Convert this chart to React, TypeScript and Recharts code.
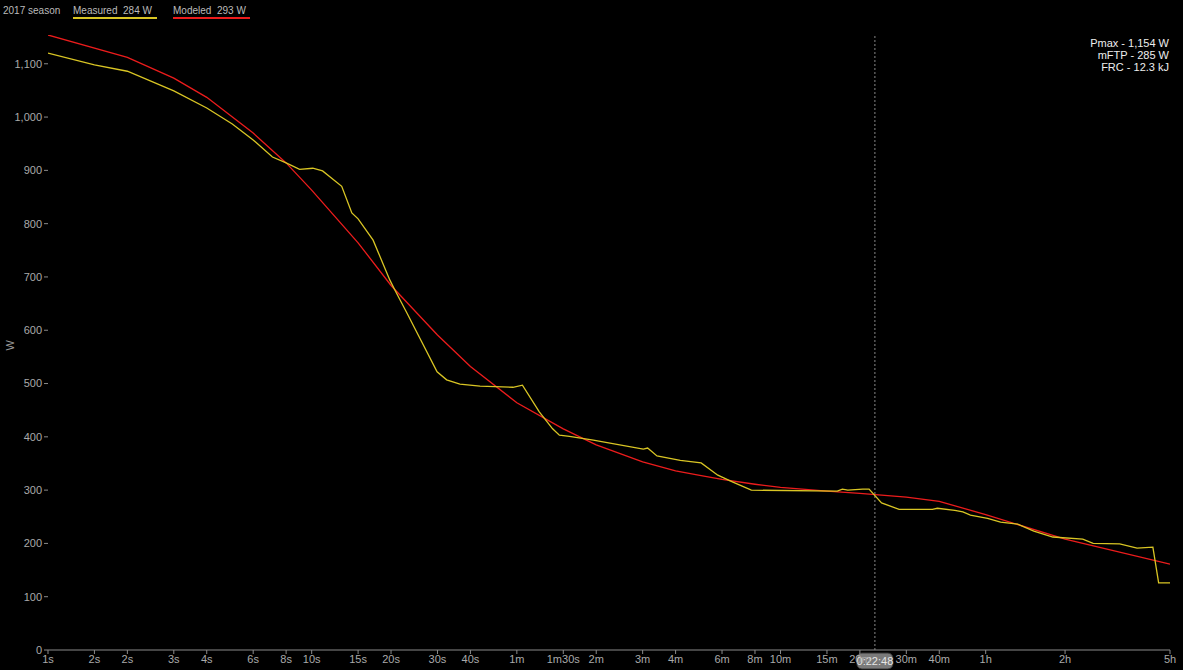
import { LineChart, Line, XAxis, YAxis, ReferenceLine } from 'recharts'

// durations in seconds (log x axis), power in watts
const measuredTime = [1, 1.5, 2, 3, 4, 5, 6, 7.1, 8, 9, 10.1, 11, 13, 14.2, 15, 17.1, 19.8, 20.7, 23, 29.9, 32.5, 36.5, 43.5, 58, 63, 73, 82, 87, 95, 117, 181, 188, 204, 250, 300, 347, 396, 465, 985, 1030, 1080, 1230, 1300, 1450, 1690, 2260, 2360, 2750, 2950, 3150, 3660, 4100, 4760, 5480, 6470, 8400, 9200, 11600, 13500, 15500, 16300, 18000]
const measuredWatts = [1120, 1098, 1086, 1049, 1017, 987, 957, 925, 914, 902, 904, 899, 870, 820, 809, 769, 694, 675, 632, 522, 507, 499, 495, 493, 497, 447, 415, 403, 401, 394, 377, 379, 364, 356, 351, 328, 315, 300, 298, 302, 300, 302, 302, 276, 264, 264, 266, 262, 259, 253, 247, 240, 236, 223, 212, 208, 200, 199, 191, 193, 126, 126]

const modeledTime = [1, 2, 3, 4, 6, 8, 10, 15, 20, 30, 40, 60, 90, 120, 180, 240, 300, 360, 480, 600, 900, 1200, 1800, 2400, 3600, 7200, 18000]
const modeledWatts = [1154, 1112, 1073, 1037, 970, 914, 863, 764, 684, 591, 532, 464, 415, 385, 353, 336, 327, 320, 311, 305, 298, 294, 287, 279, 254, 208, 161]

const xTicks = [1, 1.5, 2, 3, 4, 6, 8, 10, 15, 20, 30, 40, 60, 90, 120, 180, 240, 360, 480, 600, 900, 1200, 1800, 2400, 3600, 7200, 18000]
const xTickLabels = ['1s', '2s', '2s', '3s', '4s', '6s', '8s', '10s', '15s', '20s', '30s', '40s', '1m', '1m30s', '2m', '3m', '4m', '6m', '8m', '10m', '15m', '20m', '30m', '40m', '1h', '2h', '5h']
const yTicks = [0, 100, 200, 300, 400, 500, 600, 700, 800, 900, 1000, 1100]

const markerTime = 1368
const markerLabel = '0:22:48'

const measured = measuredTime.map((t, i) => ({ t, w: measuredWatts[i] }))
const modeled = modeledTime.map((t, i) => ({ t, w: modeledWatts[i] }))

const FONT = 'Liberation Sans, Arial, sans-serif'
const YELLOW = '#d9c524'
const RED = '#ec1c1c'

function MarkerLabel({ viewBox }: any) {
  const x = viewBox.x
  const y = viewBox.y + viewBox.height
  return (
    <g>
      <rect x={x - 18} y={y + 3} width={36} height={16} rx={5} fill="#7a7a7a" stroke="#333" />
      <text x={x} y={y + 15} textAnchor="middle" fill="#e6e6e6" fontSize={11} fontFamily={FONT}>
        {markerLabel}
      </text>
    </g>
  )
}

export default function App() {
  const legendItem = { position: 'absolute' as const, top: 0, paddingBottom: 1 }
  return (
    <div style={{ position: 'absolute', left: 0, top: 0, width: 1183, height: 670, background: '#000', fontFamily: FONT }}>
      <div style={{ position: 'absolute', left: 0, top: 5, fontSize: 10, color: '#bbb', width: 300, height: 14 }}>
        <span style={{ ...legendItem, left: 3 }}>2017 season</span>
        <span style={{ ...legendItem, left: 73, width: 84, borderBottom: `2px solid ${YELLOW}` }}>Measured&nbsp;&nbsp;284 W</span>
        <span style={{ ...legendItem, left: 173, width: 77, borderBottom: `2px solid ${RED}` }}>Modeled&nbsp;&nbsp;293 W</span>
      </div>
      <div style={{ position: 'absolute', right: 14, top: 37, fontSize: 11, color: '#eee', textAlign: 'right', lineHeight: '12px' }}>
        <div>Pmax - 1,154 W</div>
        <div>mFTP - 285 W</div>
        <div>FRC - 12.3 kJ</div>
      </div>
      <LineChart width={1183} height={670} margin={{ top: 35, right: 13, bottom: 0, left: 0 }}>
        <XAxis
          type="number"
          dataKey="t"
          scale="log"
          domain={[1, 18000]}
          ticks={xTicks}
          interval={0}
          tickFormatter={(v: number) => xTickLabels[xTicks.indexOf(v)]}
          allowDataOverflow
          height={20}
          tickSize={4}
          tickMargin={1}
          stroke="#8a8a8a"
          tick={{ fill: '#aaa', fontSize: 11, fontFamily: FONT }}
        />
        <YAxis
          type="number"
          dataKey="w"
          domain={[0, 1154]}
          ticks={yTicks}
          interval={0}
          allowDataOverflow
          width={48}
          axisLine={false}
          tickSize={4}
          tickMargin={2}
          stroke="#8a8a8a"
          tickFormatter={(v: number) => v.toLocaleString('en-US')}
          tick={{ fill: '#aaa', fontSize: 11, fontFamily: FONT }}
          label={{ value: 'W', angle: -90, position: 'insideLeft', offset: 10, dy: 8, fill: '#999', fontSize: 11, fontFamily: FONT }}
        />
        <ReferenceLine x={markerTime} stroke="#888" strokeDasharray="2 2" label={<MarkerLabel />} />
        <Line data={modeled} dataKey="w" type="linear" stroke={RED} strokeWidth={1.3} dot={false} isAnimationActive={false} />
        <Line data={measured} dataKey="w" type="linear" stroke={YELLOW} strokeWidth={1.3} dot={false} isAnimationActive={false} />
      </LineChart>
    </div>
  )
}
